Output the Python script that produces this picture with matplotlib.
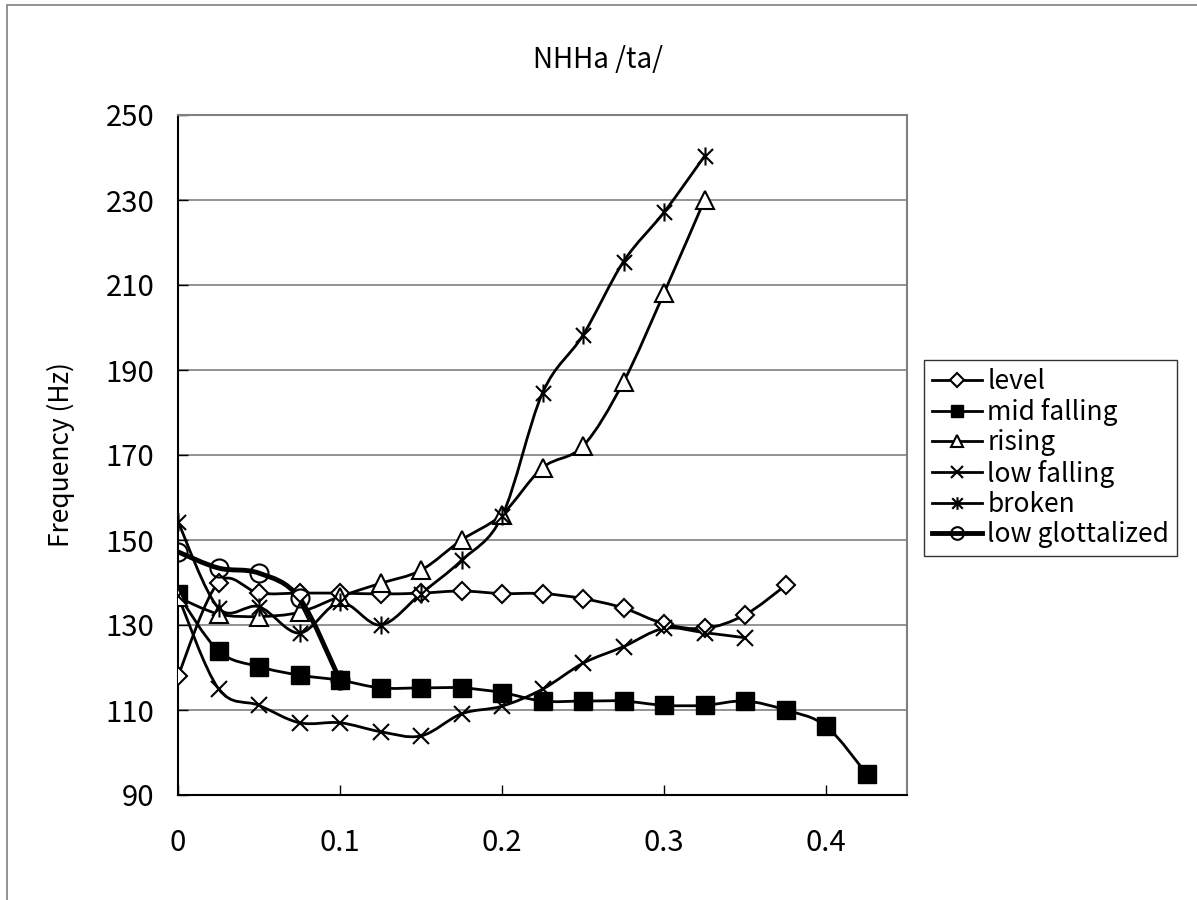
import numpy as np
import matplotlib
matplotlib.use('Agg')
import matplotlib.pyplot as plt
from matplotlib.path import Path
from matplotlib.patches import PathPatch, Rectangle
from matplotlib.lines import Line2D

plt.rcParams['font.family'] = ['Noto Sans CJK JP', 'DejaVu Sans']

# time points (s)
t_level = [0, 0.025, 0.05, 0.075, 0.1, 0.125, 0.15, 0.175, 0.2, 0.225, 0.25, 0.275, 0.3, 0.325, 0.35, 0.375]
f_level = [118, 140, 137.5, 137.5, 137.5, 137.3, 137.5, 138, 137.4, 137.4, 136.2, 134, 130.3, 129.2, 132.4, 139.3]

t_mid = [0, 0.025, 0.05, 0.075, 0.1, 0.125, 0.15, 0.175, 0.2, 0.225, 0.25, 0.275, 0.3, 0.325, 0.35, 0.375, 0.4, 0.425]
f_mid = [137.2, 123.9, 120.2, 118.2, 117, 115.2, 115.2, 115.2, 114.1, 112.1, 112.1, 112.1, 111.1, 111.1, 112.1, 110, 106.2, 95]

t_rising = [0, 0.025, 0.05, 0.075, 0.1, 0.125, 0.15, 0.175, 0.2, 0.225, 0.25, 0.275, 0.3, 0.325]
f_rising = [136.5, 132.6, 132, 133, 136.7, 139.8, 142.9, 150, 156, 167, 172.1, 187.2, 208.1, 230]

t_lowfall = [0, 0.025, 0.05, 0.075, 0.1, 0.125, 0.15, 0.175, 0.2, 0.225, 0.25, 0.275, 0.3, 0.325, 0.35]
f_lowfall = [136.8, 115, 111.1, 107, 107, 104.9, 103.9, 109.1, 110.9, 114.9, 121, 124.9, 129.2, 128.2, 127]

t_broken = [0, 0.025, 0.05, 0.075, 0.1, 0.125, 0.15, 0.175, 0.2, 0.225, 0.25, 0.275, 0.3, 0.325]
f_broken = [154.3, 134, 134.3, 128.1, 135.3, 130, 137.4, 145.2, 155.6, 184.6, 198.2, 215.5, 227.1, 240.3]

t_glott = [0, 0.025, 0.05, 0.075, 0.1]
f_glott = [147.2, 143.4, 142.2, 136.3, 117]

labels = ['level', 'mid falling', 'rising', 'low falling', 'broken', 'low glottalized']

asterisk = Path([(-1, -1), (1, 1), (-1, 1), (1, -1), (0, -1.2), (0, 1.2)],
                [Path.MOVETO, Path.LINETO, Path.MOVETO, Path.LINETO, Path.MOVETO, Path.LINETO])


def smooth_path(x, y):
    # Excel-like smoothed line: cubic bezier through points (Catmull-Rom tangents)
    p = np.column_stack([x, y]).astype(float)
    n = len(p)
    verts = [p[0]]
    codes = [Path.MOVETO]
    for i in range(n - 1):
        p0 = p[i - 1] if i > 0 else p[i]
        p3 = p[i + 2] if i + 2 < n else p[i + 1]
        c1 = p[i] + (p[i + 1] - p0) / 6.0
        c2 = p[i + 1] - (p3 - p[i]) / 6.0
        verts += [c1, c2, p[i + 1]]
        codes += [Path.CURVE4] * 3
    return Path(verts, codes)


series = [
    (t_level, f_level, dict(marker='D', ms=9.5, mfc='white', mec='black', mew=1.5), 2.0),
    (t_mid, f_mid, dict(marker='s', ms=13, mfc='black', mec='black', mew=1.0), 2.0),
    (t_rising, f_rising, dict(marker='^', ms=13, mfc='white', mec='black', mew=1.5), 2.0),
    (t_lowfall, f_lowfall, dict(marker='x', ms=12, mfc='none', mec='black', mew=1.5), 2.0),
    (t_broken, f_broken, dict(marker=asterisk, ms=13, mfc='none', mec='black', mew=1.5), 2.0),
    (t_glott, f_glott, dict(marker='o', ms=13, mfc='none', mec='black', mew=1.5), 3.5),
]

fig = plt.figure(figsize=(11.97, 9), dpi=100)
fig.patches.append(Rectangle((7 / 1197, -0.01), 1.1, 1 - 5 / 900 + 0.01, transform=fig.transFigure,
                             fill=False, edgecolor='#808080', linewidth=1.2))
ax = fig.add_axes([178 / 1197, 1 - 795 / 900, (907 - 178) / 1197, (795 - 115) / 900])

handles = []
for (x, y, mk, lw), lab in zip(series, labels):
    ax.add_patch(PathPatch(smooth_path(x, y), facecolor='none', edgecolor='black', lw=lw, zorder=3))
    ax.plot(x, y, linestyle='none', zorder=4, **mk)
    handles.append(Line2D([], [], color='black', lw=lw, **mk))

ax.set_xlim(0, 0.45)
ax.set_ylim(90, 250)
ax.set_xticks([0, 0.1, 0.2, 0.3, 0.4])
ax.set_xticklabels(['0', '0.1', '0.2', '0.3', '0.4'])
ax.set_yticks(np.arange(90, 251, 20))
ax.grid(axis='y', color='#808080', lw=1.2)
ax.set_axisbelow(True)
ax.tick_params(direction='in', length=7, width=1, labelsize=21, colors='black')
ax.tick_params(axis='y', pad=17)
ax.tick_params(axis='x', pad=24)
for s in ['top', 'right']:
    ax.spines[s].set_color('#808080')
    ax.spines[s].set_linewidth(1.5)
for s in ['left', 'bottom']:
    ax.spines[s].set_linewidth(1.5)

ax.set_ylabel('Frequency (Hz)', fontsize=19, labelpad=22)
fig.text(598 / 1197, 1 - 60 / 900, 'NHHa /ta/', fontsize=20, ha='center', va='center')

leg = ax.legend(handles, labels, loc='center left', bbox_to_anchor=(924 / 1197, 1 - 458 / 900),
                bbox_transform=fig.transFigure, frameon=True, fancybox=False, fontsize=19,
                handlelength=1.9, handletextpad=0.2, labelspacing=0.12, borderpad=0.3,
                borderaxespad=0, markerscale=0.7)
leg.get_frame().set_edgecolor('black')
leg.get_frame().set_linewidth(1.0)

plt.savefig('out.png', dpi=100)
